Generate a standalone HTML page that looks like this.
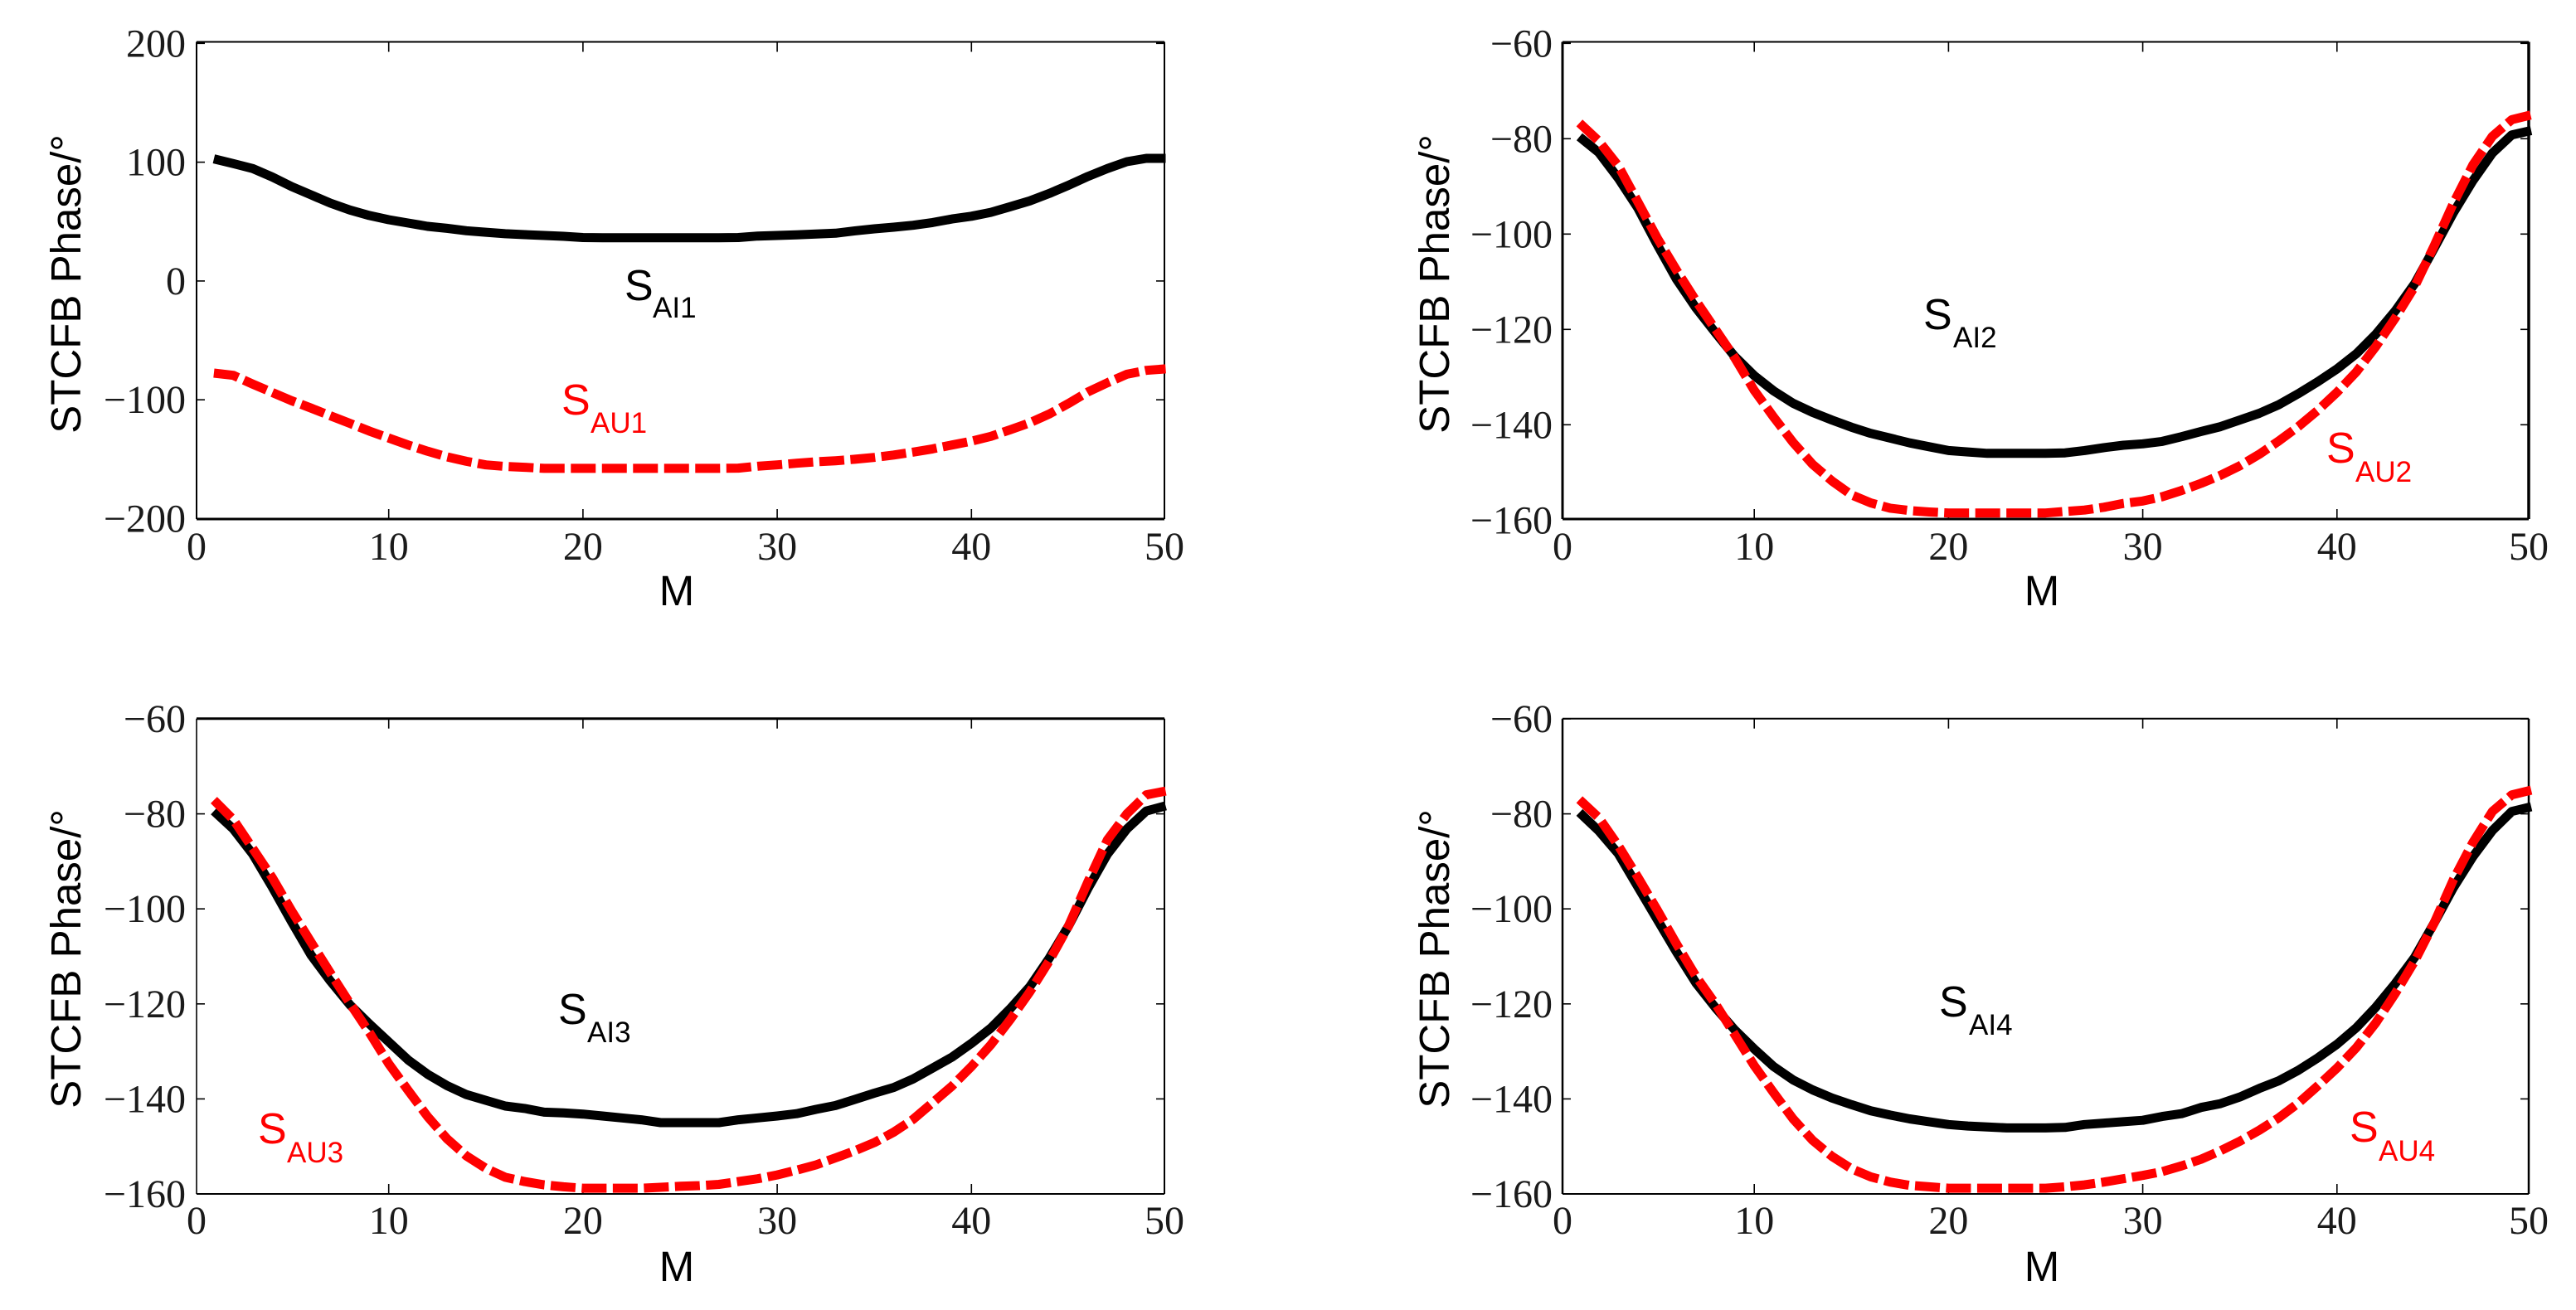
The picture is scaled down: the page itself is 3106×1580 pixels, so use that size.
<!DOCTYPE html>
<html lang="en">
<head>
<meta charset="utf-8">
<title>STCFB Phase vs M</title>
<style>
html,body{margin:0;padding:0;background:#fff;}
svg{display:block;}
.tick{font-family:"Liberation Serif",serif;font-size:48px;fill:#1a1a1a;}
.title{font-family:"Liberation Sans",sans-serif;font-size:51px;fill:#000;}
.s{font-family:"Liberation Sans",sans-serif;font-size:52px;}
.sub{font-family:"Liberation Sans",sans-serif;font-size:35px;}
</style>
</head>
<body>
<svg id="figure" xmlns="http://www.w3.org/2000/svg" width="3106" height="1580" viewBox="0 0 3106 1580">
  <rect x="0" y="0" width="3106" height="1580" fill="#fff"/>

  <g id="panel-1"></g>
  <g id="panel-2"></g>
  <g id="panel-3"></g>
  <g id="panel-4"></g>

  <text class="title" transform="translate(97,342.5) rotate(-90)" text-anchor="middle">STCFB Phase/°</text>
  <text class="title" transform="translate(1747,342.5) rotate(-90)" text-anchor="middle">STCFB Phase/°</text>
  <text class="title" transform="translate(97,1156.5) rotate(-90)" text-anchor="middle">STCFB Phase/°</text>
  <text class="title" transform="translate(1747,1156.5) rotate(-90)" text-anchor="middle">STCFB Phase/°</text>

  <text class="title" x="816" y="730" text-anchor="middle">M</text>
  <text class="title" x="2462" y="730" text-anchor="middle">M</text>
  <text class="title" x="816" y="1545" text-anchor="middle">M</text>
  <text class="title" x="2462" y="1545" text-anchor="middle">M</text>

  <g fill="#000"><text class="s" x="753" y="362">S</text><text class="sub" x="787" y="383">AI1</text></g>
  <g fill="#f00"><text class="s" x="677" y="500">S</text><text class="sub" x="712" y="522">AU1</text></g>
  <g fill="#000"><text class="s" x="2319" y="397">S</text><text class="sub" x="2355" y="419">AI2</text></g>
  <g fill="#f00"><text class="s" x="2805" y="558">S</text><text class="sub" x="2840" y="581">AU2</text></g>
  <g fill="#000"><text class="s" x="673" y="1235">S</text><text class="sub" x="708" y="1257">AI3</text></g>
  <g fill="#f00"><text class="s" x="311" y="1379">S</text><text class="sub" x="346" y="1402">AU3</text></g>
  <g fill="#000"><text class="s" x="2338" y="1226">S</text><text class="sub" x="2374" y="1248">AI4</text></g>
  <g fill="#f00"><text class="s" x="2833" y="1377">S</text><text class="sub" x="2868" y="1400">AU4</text></g>
</svg>

<script>
const categoriesM = [1,2,3,4,5,6,7,8,9,10,11,12,13,14,15,16,17,18,19,20,21,22,23,24,25,26,27,28,29,30,31,32,33,34,35,36,37,38,39,40,41,42,43,44,45,46,47,48,49,50];

const xTickValues = [0,10,20,30,40,50];
const yTicksPanel1 = [200,100,0,-100,-200];
const yTicksOther = [-60,-80,-100,-120,-140,-160];

const sai1 = [102.8,98.8,94.6,87.6,79.5,72.5,65.5,59.7,55.1,51.6,48.8,46,44.3,42.3,41,39.8,39,38.3,37.6,36.6,36.4,36.4,36.4,36.4,36.4,36.4,36.4,36.6,37.8,38.3,38.8,39.6,40.2,42.2,43.9,45.3,46.9,49.2,52.2,54.5,57.8,62.5,67.4,73.6,80.6,88,94.6,100.4,103.2,103.2];
const sau1 = [-77.5,-79.4,-86.8,-93.8,-100.8,-107,-113.5,-119.8,-126.3,-132.2,-138,-143.3,-148,-151.8,-154.8,-156.1,-156.8,-157.7,-157.7,-157.7,-157.7,-157.7,-157.7,-157.7,-157.7,-157.7,-157.7,-157.5,-155.9,-154.8,-153.4,-152.2,-151.3,-150,-148.5,-146.5,-144,-141.3,-138,-134.8,-130.8,-125.2,-119.4,-112,-103.1,-93.4,-85.7,-78.5,-75.2,-74];

const sai2 = [-79.6,-82.9,-88.3,-94.5,-102.2,-109.5,-115.5,-120.7,-125.7,-129.7,-132.9,-135.5,-137.4,-139,-140.5,-141.8,-142.8,-143.8,-144.6,-145.4,-145.7,-146,-146,-146,-146,-145.9,-145.4,-144.8,-144.3,-144,-143.5,-142.5,-141.4,-140.4,-139,-137.6,-135.8,-133.5,-131,-128.3,-125.1,-121,-116.1,-110.4,-103,-95.5,-88.8,-83,-79.2,-78.3];
const sau2 = [-76.7,-80.5,-85.7,-93.2,-100.8,-107.6,-114,-120,-126,-132.8,-138.4,-143.7,-148.3,-151.8,-154.7,-156.4,-157.5,-158,-158.3,-158.5,-158.5,-158.5,-158.5,-158.5,-158.5,-158.2,-157.9,-157.3,-156.5,-156,-155.1,-153.8,-152.3,-150.6,-148.6,-146.2,-143.4,-140.4,-137,-133.2,-128.9,-123.6,-117.6,-111,-102.5,-93.5,-85.5,-79.5,-76,-75];

const sai3 = [-79.4,-83.2,-88.5,-95.4,-102.7,-109.7,-115.2,-120.2,-124.2,-128,-131.8,-134.8,-137.2,-139.1,-140.3,-141.5,-142,-142.8,-142.95,-143.2,-143.6,-144,-144.4,-145,-145,-145,-145,-144.4,-144,-143.6,-143.1,-142.2,-141.4,-140.1,-138.8,-137.6,-135.8,-133.5,-131.2,-128.3,-125.1,-121,-116.4,-110.4,-103.6,-95.7,-88.5,-83.2,-79.4,-78.3];
const sau3 = [-77.1,-81.2,-87.3,-93.4,-100.4,-107,-113.5,-119.9,-126,-132.6,-138.2,-143.7,-148.4,-152,-154.6,-156.5,-157.4,-158.1,-158.5,-158.8,-158.8,-158.8,-158.8,-158.6,-158.4,-158.25,-158,-157.4,-156.8,-156,-155,-153.9,-152.4,-150.9,-149.2,-147,-144.3,-140.8,-137.3,-133.2,-128.6,-123.3,-117.5,-111,-103.6,-94.3,-85.5,-80,-76,-75.2];

const sai4 = [-79.7,-83.6,-88.4,-95.3,-102.2,-109.1,-115.6,-120.8,-125.5,-129.5,-133.2,-136,-138.1,-139.8,-141.2,-142.5,-143.4,-144.2,-144.8,-145.4,-145.7,-145.9,-146.1,-146.1,-146.1,-146,-145.4,-145.1,-144.8,-144.5,-143.7,-143.1,-141.8,-141,-139.6,-137.8,-136.2,-134,-131.4,-128.5,-125,-120.7,-115.7,-110.2,-103,-95.5,-89,-83.5,-79.5,-78.5];
const sau4 = [-77,-80.8,-86.7,-93.3,-100.2,-107.4,-114.2,-120,-126.5,-133,-138.7,-144.2,-148.7,-152.1,-154.7,-156.4,-157.5,-158.2,-158.5,-158.8,-158.8,-158.8,-158.8,-158.8,-158.8,-158.5,-158.1,-157.5,-156.8,-156.1,-155.3,-154.1,-152.7,-150.9,-148.9,-146.6,-144,-140.9,-137.3,-133.5,-129.2,-124,-117.8,-111,-103,-93.8,-86,-79.5,-76,-75];

const SVGNS = 'http://www.w3.org/2000/svg';

function makeScale(d0, d1, r0, r1) {
  return function (v) { return r0 + (v - d0) * (r1 - r0) / (d1 - d0); };
}

function strokeLine(parent, x1, y1, x2, y2, w) {
  const el = document.createElementNS(SVGNS, 'line');
  el.setAttribute('x1', x1);
  el.setAttribute('y1', y1);
  el.setAttribute('x2', x2);
  el.setAttribute('y2', y2);
  el.setAttribute('stroke', '#000');
  el.setAttribute('stroke-width', w);
  parent.appendChild(el);
  return el;
}

function tickText(parent, str, x, y, anchor) {
  const el = document.createElementNS(SVGNS, 'text');
  el.setAttribute('class', 'tick');
  el.setAttribute('x', x);
  el.setAttribute('y', y);
  el.setAttribute('text-anchor', anchor);
  el.textContent = str;
  parent.appendChild(el);
  return el;
}

function series(parent, xs, ys, color, dash, width, xScale, yScale) {
  const el = document.createElementNS(SVGNS, 'polyline');
  let pts = '';
  for (let i = 0; i < ys.length; i++) {
    pts += xScale(xs[i]).toFixed(1) + ',' + yScale(ys[i]).toFixed(1) + ' ';
  }
  el.setAttribute('points', pts.trim());
  el.setAttribute('fill', 'none');
  el.setAttribute('stroke', color);
  el.setAttribute('stroke-width', width);
  el.setAttribute('stroke-linejoin', 'round');
  if (dash) el.setAttribute('stroke-dasharray', dash);
  parent.appendChild(el);
  return el;
}

function drawPanel(n, box, xRange, yDomain, yRange, yTicks, weights, blackVals, redVals, xLabelY, yLabelRight) {
  const g = document.getElementById('panel-' + n);
  const xScale = makeScale(0, 50, xRange[0], xRange[1]);
  const yScale = makeScale(yDomain[0], yDomain[1], yRange[0], yRange[1]);
  const tickLen = 10;

  const top = strokeLine(g, box.left, box.top, box.right, box.top, weights[0]);
  
  
  const bottom = strokeLine(g, box.left, box.bottom, box.right, box.bottom, weights[1]);
  
  
  const left = strokeLine(g, box.left, box.top, box.left, box.bottom, weights[2]);
  
  
  const right = strokeLine(g, box.right, box.top, box.right, box.bottom, weights[3]);
  
  

  xTickValues.forEach(function (t) {
    const px = xScale(t);
    if (px > box.left + 2 && px < box.right - 2) {
      const a = strokeLine(g, px, box.bottom, px, box.bottom - tickLen - 2, 1.6);
      
      
      const b = strokeLine(g, px, box.top, px, box.top + tickLen + 2, 1.6);
      
      
    }
    const lab = tickText(g, String(t), t === 0 ? box.left : (t === 50 ? box.right : px), xLabelY, 'middle');
    
    
  });

  yTicks.forEach(function (t) {
    const py = yScale(t);
    if (py < box.bottom - 2) {
      const a = strokeLine(g, box.left, py, box.left + tickLen, py, 1.6);
      
      
      const b = strokeLine(g, box.right, py, box.right - tickLen, py, 1.6);
      
      
    }
    const str = t < 0 ? '\u2212' + Math.abs(t) : String(t);
    const lab = tickText(g, str, yLabelRight, py + 16, 'end');
    
    
  });

  const black = series(g, categoriesM, blackVals, '#000', null, 11, xScale, yScale);
  
  
  const red = series(g, categoriesM, redVals, '#f00', '30 7.5', 11, xScale, yScale);
  
  
}

drawPanel(1, {left:237, right:1404, top:50.5, bottom:626}, [234.5,1405.5], [200,-200], [52.3,625.5], yTicksPanel1, [2,3,2,2], sai1, sau1, 675, 224);
drawPanel(2, {left:1884, right:3049, top:50.5, bottom:626}, [1881,3052], [-60,-160], [52.3,627.3], yTicksOther, [2,3,3,3.5], sai2, sau2, 675, 1872);
drawPanel(3, {left:237, right:1404, top:866.7, bottom:1440}, [234.5,1405.5], [-60,-160], [867,1440], yTicksOther, [3,2,1.6,2], sai3, sau3, 1488, 224);
drawPanel(4, {left:1884, right:3049, top:866.7, bottom:1440}, [1881,3052], [-60,-160], [867,1440], yTicksOther, [2,2,2.5,2.5], sai4, sau4, 1488, 1872);
</script>
</body>
</html>
